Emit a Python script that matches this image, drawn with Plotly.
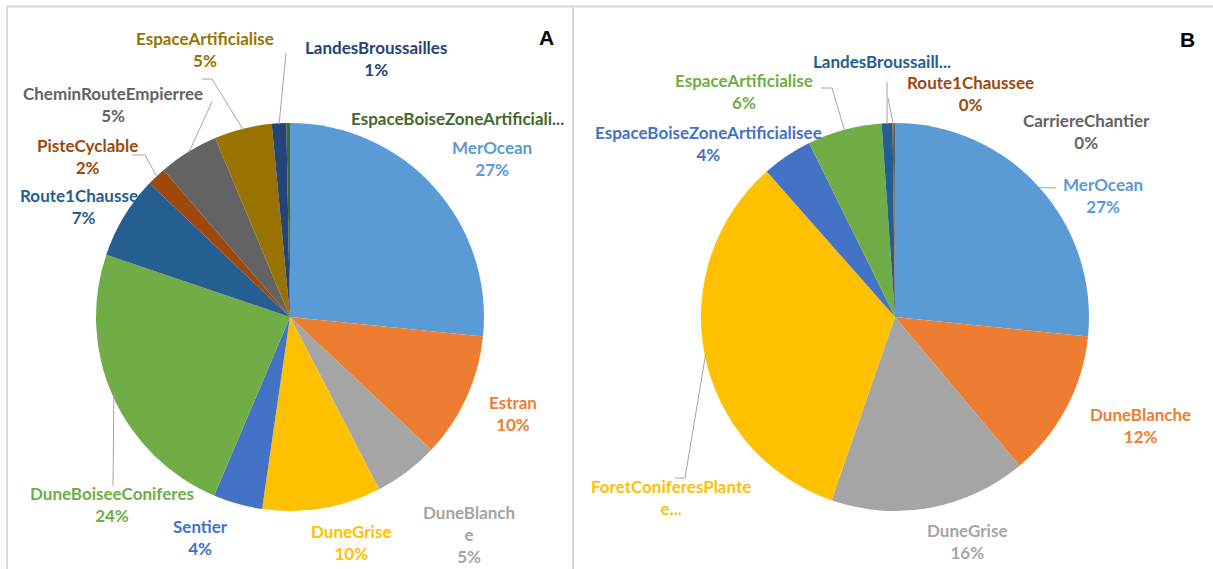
import math
import plotly.graph_objects as go

W, H = 1213, 569

# ---- data -------------------------------------------------------------
cats_a = ["MerOcean", "Estran", "DuneBlanche", "DuneGrise", "Sentier",
          "DuneBoiseeConiferes", "Route1Chaussee", "PisteCyclable",
          "CheminRouteEmpierree", "EspaceArtificialise", "LandesBroussailles",
          "EspaceBoiseZoneArtificialisee"]
vals_a = [26.6, 10.4, 5.4, 9.9, 4.1, 23.8, 6.9, 1.6, 5.0, 4.8, 1.2, 0.3]

cats_b = ["MerOcean", "DuneBlanche", "DuneGrise", "ForetConiferesPlantee",
          "EspaceBoiseZoneArtificialisee", "EspaceArtificialise",
          "LandesBroussailles", "Route1Chaussee", "CarriereChantier"]
vals_b = [26.6, 12.3, 16.4, 33.2, 4.2, 6.2, 0.9, 0.1, 0.1]

# label text as drawn (Excel-style wrapping / truncation); None = no percentage
shown_a = {"DuneBlanche": ("DuneBlanch<br>e", True),
           "EspaceBoiseZoneArtificialisee": ("EspaceBoiseZoneArtificiali...", False)}
shown_b = {"ForetConiferesPlantee": ("ForetConiferesPlante<br>e...", False),
           "LandesBroussailles": ("LandesBroussaill...", False)}

# ---- style ------------------------------------------------------------
colors_a = ["#5B9BD5", "#ED7D31", "#A5A5A5", "#FFC000", "#4472C4", "#70AD47",
            "#255E91", "#9E480E", "#636363", "#997300", "#264478", "#43682B"]
colors_b = ["#5B9BD5", "#ED7D31", "#A5A5A5", "#FFC000", "#4472C4", "#70AD47",
            "#255E91", "#9E480E", "#636363"]

# pie centre / radius in pixels
geom_a = (290, 317, 194)
geom_b = (895, 317, 194)

# label block centre (px) and label-side points of the leader line (px)
place_a = {
    "MerOcean": (492, 158, None),
    "Estran": (513, 413, None),
    "DuneBlanche": (469, 534, None),
    "DuneGrise": (351, 542, None),
    "Sentier": (200, 537, None),
    "DuneBoiseeConiferes": (112, 504, [(113, 486)]),
    "Route1Chaussee": (83, 206, None),
    "PisteCyclable": (87, 156, [(132, 155), (145, 155)]),
    "CheminRouteEmpierree": (113, 104, [(212, 102)]),
    "EspaceArtificialise": (205, 49, [(202, 79), (212, 79)]),
    "LandesBroussailles": (376, 58, [(286, 53)]),
    "EspaceBoiseZoneArtificialisee": (458, 118, None),
}
place_b = {
    "MerOcean": (1103, 195, [(1056, 188)]),
    "DuneBlanche": (1140, 425, None),
    "DuneGrise": (967, 541, None),
    "ForetConiferesPlantee": (671, 497, [(675, 478), (685, 478)]),
    "EspaceBoiseZoneArtificialisee": (708, 143, None),
    "EspaceArtificialise": (744, 92, [(821, 88), (832, 88)]),
    "LandesBroussailles": (882, 61, [(887, 82)]),
    "Route1Chaussee": (970, 93, [(888, 98)]),
    "CarriereChantier": (1086, 131, None),
}

FONT = "Lato, 'Open Sans', sans-serif"
LEADER = "#A6A6A6"
BORDER = "#D9D9D9"


def px(x):
    return x / W


def py(y):
    return 1 - y / H


fig = go.Figure()
annotations = []
shapes = []


def add_panel(cats, vals, colors, geom, place, shown):
    cx, cy, r = geom
    fig.add_trace(go.Pie(
        labels=cats, values=vals, sort=False, direction="clockwise",
        rotation=0, textinfo="none", hoverinfo="label+percent",
        marker=dict(colors=colors, line=dict(width=0)),
        domain=dict(x=[px(cx - r), px(cx + r)], y=[py(cy + r), py(cy - r)]),
        showlegend=False,
    ))
    total = sum(vals)
    cum = 0.0
    for cat, v, col in zip(cats, vals, colors):
        mid = (cum + v / 2) / total * 2 * math.pi
        cum += v
        lx, ly, pts = place[cat]
        name, with_pct = shown.get(cat, (cat, True))
        txt = name + (f"<br>{round(100 * v / total)}%" if with_pct else "")
        annotations.append(dict(
            x=px(lx), y=py(ly), xref="paper", yref="paper", text=txt,
            showarrow=False, xanchor="center", yanchor="middle",
            font=dict(family=FONT, size=17, color=col, weight="bold"),
        ))
        if pts:
            ex = cx + (r - 1) * math.sin(mid)
            ey = cy - (r - 1) * math.cos(mid)
            path_pts = list(pts) + [(ex, ey)]
            path = "M " + " L ".join(f"{px(x):.5f},{py(y):.5f}" for x, y in path_pts)
            shapes.append(dict(type="path", path=path, xref="paper", yref="paper",
                               line=dict(color=LEADER, width=1)))


add_panel(cats_a, vals_a, colors_a, geom_a, place_a, shown_a)
add_panel(cats_b, vals_b, colors_b, geom_b, place_b, shown_b)

# panel letters
for letter, (x, y) in {"A": (546, 38), "B": (1187, 39)}.items():
    annotations.append(dict(
        x=px(x), y=py(y), xref="paper", yref="paper", text=letter,
        showarrow=False, xanchor="center", yanchor="middle",
        font=dict(family="Liberation Sans, Arial, sans-serif", size=21,
                  color="black", weight="bold"),
    ))

# panel frames
for x0, y0, x1, y1 in [(6, 6.5, W, 6.5), (7, 6, 7, H), (573, 6, 573, H)]:
    shapes.append(dict(type="line", xref="paper", yref="paper",
                       x0=px(x0), y0=py(y0), x1=px(x1), y1=py(y1),
                       line=dict(color=BORDER, width=2)))

fig.update_layout(
    width=W, height=H, margin=dict(l=0, r=0, t=0, b=0),
    paper_bgcolor="white", plot_bgcolor="white",
    annotations=annotations, shapes=shapes,
)

fig.write_html("out.html")
